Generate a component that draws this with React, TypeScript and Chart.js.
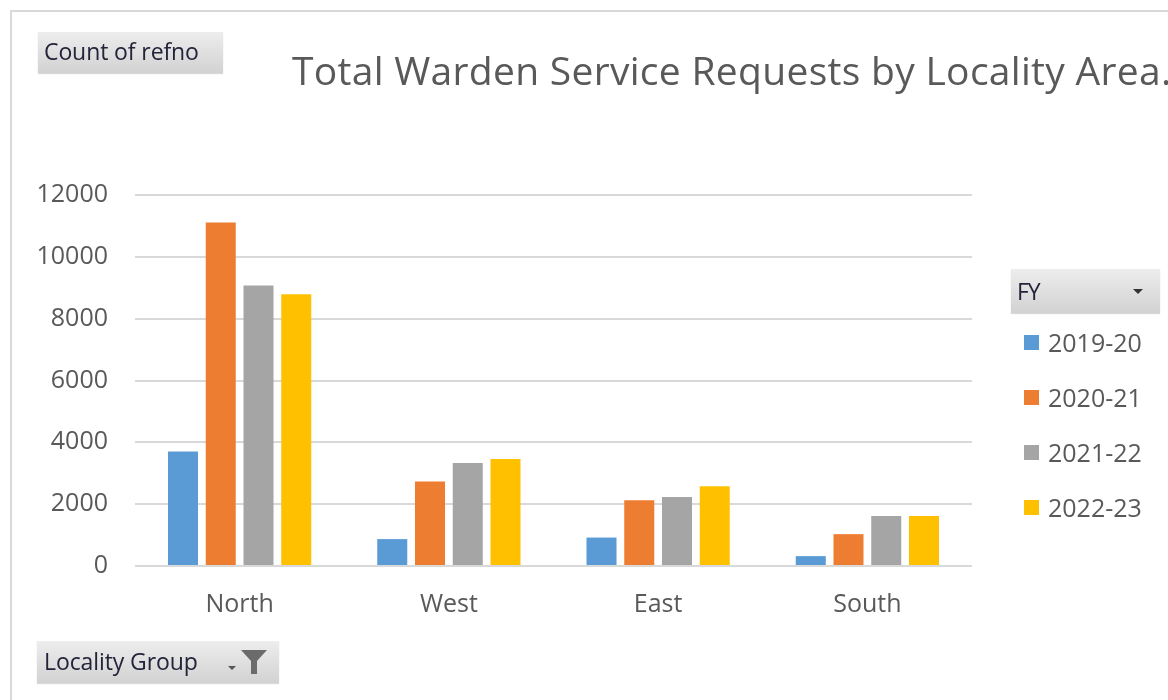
import React, { useEffect, useRef } from "react";
import { Chart, registerables } from "chart.js";

Chart.register(...registerables);

const categories = ["North", "West", "East", "South"];
const seriesLabels = ["2019-20", "2020-21", "2021-22", "2022-23"];
const fy2019 = [3700, 870, 920, 320];
const fy2020 = [11110, 2730, 2130, 1030];
const fy2021 = [9070, 3330, 2230, 1620];
const fy2022 = [8790, 3460, 2580, 1620];
const seriesValues = [fy2019, fy2020, fy2021, fy2022];
const seriesColors = ["#5B9BD5", "#ED7D31", "#A5A5A5", "#FFC000"];
const yTicks = [0, 2000, 4000, 6000, 8000, 10000, 12000];
const titleText = "Total Warden Service Requests by Locality Area.";

const FONT = "'Open Sans', 'DejaVu Sans', sans-serif";

export default function App() {
  const canvasRef = useRef<HTMLCanvasElement | null>(null);

  useEffect(() => {
    if (!canvasRef.current) return;
    const chart = new Chart(canvasRef.current, {
      type: "bar",
      data: {
        labels: categories,
        datasets: seriesLabels.map((label, i) => ({
          label,
          data: seriesValues[i],
          backgroundColor: seriesColors[i],
          borderWidth: 0,
          categoryPercentage: 0.7216,
          barPercentage: 0.795,
        })),
      },
      options: {
        animation: false,
        responsive: false,
        maintainAspectRatio: false,
        layout: { padding: { top: 195, right: 196, left: 0, bottom: 74 } },
        plugins: {
          legend: { display: false },
          title: { display: false },
          tooltip: { enabled: false },
        },
        scales: {
          x: {
            grid: { display: false, drawTicks: false },
            border: { display: false },
            ticks: {
              color: "#595959",
              font: { family: FONT, size: 25 },
              padding: 24,
              maxRotation: 0,
            },
            afterFit: (scale: any) => {
              scale.height = 60;
            },
          },
          y: {
            min: yTicks[0],
            max: yTicks[yTicks.length - 1],
            grid: { color: "#d9d9d9", lineWidth: 2, drawTicks: false },
            border: { display: false },
            afterBuildTicks: (scale: any) => {
              scale.ticks = yTicks.map((v) => ({ value: v }));
            },
            ticks: {
              color: "#595959",
              font: { family: FONT, size: 25 },
              padding: 27,
              callback: (v: any) => String(v),
            },
            afterFit: (scale: any) => {
              scale.width = 135;
            },
          },
        },
      },
    });
    return () => chart.destroy();
  }, []);

  const btn: React.CSSProperties = {
    position: "absolute",
    background: "linear-gradient(#ededed, #d2d2d2)",
    boxShadow: "0 1px 1px rgba(0,0,0,0.15)",
    color: "#23233a",
    fontFamily: FONT,
    fontSize: 23,
    lineHeight: "1",
    boxSizing: "border-box",
    letterSpacing: "-0.1px",
  };

  return (
    <div
      style={{
        position: "absolute",
        left: 0,
        top: 0,
        width: 1168,
        height: 700,
        overflow: "hidden",
        background: "#ffffff",
      }}
    >
      <div
        style={{
          position: "absolute",
          left: 10,
          top: 10,
          width: 1200,
          height: 760,
          border: "2px solid #d9d9d9",
        }}
      />
      <canvas
        ref={canvasRef}
        width={1168}
        height={700}
        style={{ position: "absolute", left: 0, top: 0, width: 1168, height: 700 }}
      />
      <div
        style={{
          position: "absolute",
          left: 292,
          top: 50,
          whiteSpace: "nowrap",
          fontFamily: FONT,
          fontSize: 39,
          letterSpacing: "0.3px",
          lineHeight: "1",
          color: "#595959",
        }}
      >
        {titleText}
      </div>
      <div style={{ ...btn, left: 38, top: 32, width: 185, height: 41, paddingLeft: 6, paddingTop: 8 }}>
        Count of refno
      </div>
      <div style={{ ...btn, left: 37, top: 641, width: 242, height: 42, paddingLeft: 7, paddingTop: 9 }}>
        Locality Group
        <span style={{ position: "absolute", left: 191, top: 25, width: 0, height: 0, borderLeft: "4px solid transparent", borderRight: "4px solid transparent", borderTop: "4px solid #555" }} />
        <svg style={{ position: "absolute", left: 203, top: 7 }} width="28" height="28" viewBox="0 0 28 28">
          <path d="M1 2 H27 L17 13 V26 H11 V13 Z" fill="#6b6b6b" />
        </svg>
      </div>
      <div
        style={{
          ...btn,
          left: 1011,
          top: 269,
          width: 149,
          height: 44,
          paddingLeft: 6,
          paddingTop: 11,
          letterSpacing: "-1px",
        }}
      >
        FY
        <span style={{ position: "absolute", left: 122, top: 20, width: 0, height: 0, borderLeft: "5px solid transparent", borderRight: "5px solid transparent", borderTop: "5px solid #333" }} />
      </div>
      {seriesLabels.map((label, i) => (
        <div
          key={label}
          style={{
            position: "absolute",
            left: 1024,
            top: 342 + i * 55 - 15,
            height: 30,
            display: "flex",
            alignItems: "center",
            fontFamily: FONT,
            fontSize: 25,
            color: "#595959",
            whiteSpace: "nowrap",
          }}
        >
          <span style={{ display: "inline-block", width: 15, height: 15, background: seriesColors[i], marginRight: 9 }} />
          {label}
        </div>
      ))}
    </div>
  );
}
